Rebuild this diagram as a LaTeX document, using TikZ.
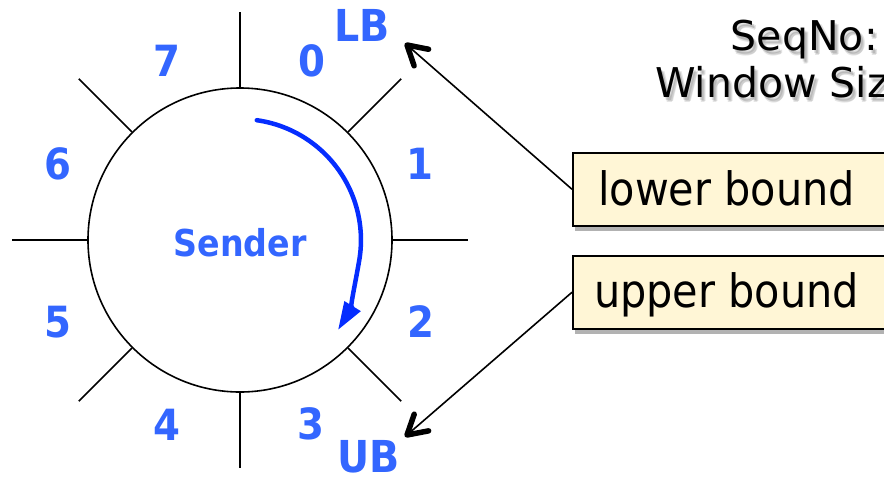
\documentclass[tikz,border=0pt]{standalone}
\usepackage{fontspec}
\setmainfont{DejaVu Sans}
\newfontfamily\condfont{DejaVu Sans Condensed}
\usetikzlibrary{arrows.meta,shadows,calc}
\definecolor{lblblue}{RGB}{51,102,255}
\definecolor{arcblue}{RGB}{5,45,255}
\definecolor{boxfill}{RGB}{255,246,214}
\begin{document}
\begin{tikzpicture}[x=1pt,y=-1pt,
  tick/.style={line width=1.6pt},
  numlbl/.style={text=lblblue, inner sep=0pt, font=\condfont\bfseries\fontsize{43}{50}\selectfont},
  bndlbl/.style={text=lblblue, inner sep=0pt, font=\condfont\bfseries\fontsize{44}{50}\selectfont},
  sndlbl/.style={text=lblblue, inner sep=0pt, font=\condfont\bfseries\fontsize{37}{44}\selectfont},
  hdr/.style={inner sep=0pt, font=\fontsize{41}{48}\selectfont},
  hdrshadow/.style={hdr, text=black, opacity=0.1},
  boundbox/.style={draw=black, line width=1.5pt, fill=boxfill, minimum width=330pt, minimum height=73pt,
     drop shadow={shadow xshift=2pt, shadow yshift=-5pt, opacity=0.3, fill=black}},
  boxtext/.style={inner sep=0pt, font=\condfont\fontsize{46}{54}\selectfont},
  ptr/.style={line width=1.6pt},
  barb/.style={line width=5.5pt, line cap=round, line join=round},
  sweep/.style={draw=arcblue, line width=4.5pt, line cap=round, -{Triangle[length=28pt,width=18pt]}}
]
\useasboundingbox (0,0) rectangle (884,480);
\clip (0,0) rectangle (884,480);

% header texts (partly cut off), with a soft shadow
\foreach \dx/\dy [count=\i] in {2/3,3/5,4/4} {
  \node[hdrshadow, anchor=base east] (seqshadow\i) at (878+\dx,50+\dy) {SeqNo:};
  \node[hdrshadow, anchor=base west] (winshadow\i) at (655+\dx,97+\dy) {Window Size};
}
\node[hdr, anchor=base east] (seq) at (878,50) {SeqNo:};
\node[hdr, anchor=base west] (win) at (655,97) {Window Size};

% wheel
\node[circle, draw, line width=1.6pt, minimum size=304pt, inner sep=0pt] (wheel) at (240,240) {};
\foreach \a in {0,45,...,315}
  \draw[tick] (wheel.\a) -- ($(wheel.center)+(\a:228pt)$);

\node[sndlbl] (sender) at (240,243) {Sender};

% sequence numbers
\node[numlbl] (n0) at (312,61) {0};
\node[numlbl] (n1) at (420,164) {1};
\node[numlbl] (n2) at (421,322) {2};
\node[numlbl] (n3) at (311,424) {3};
\node[numlbl] (n4) at (167,425) {4};
\node[numlbl] (n5) at (58,322) {5};
\node[numlbl] (n6) at (58,164) {6};
\node[numlbl] (n7) at (167,61) {7};
\node[bndlbl] (lb) at (362,25) {LB};
\node[bndlbl] (ub) at (369,457) {UB};

% sweep arrow
\coordinate (swstart) at (256.8,120.2);
\coordinate (swend) at (338,330);
\draw[sweep] (swstart) arc[start angle=82, end angle=-10, radius=121pt]
  .. controls (355,285) and (349,312) .. (swend);

% bound boxes
\node[boundbox, anchor=north west] (lbbox) at (572,152) {};
\node[boxtext, anchor=base west] (lbtext) at (598,205) {lower bound};
\node[boundbox, anchor=north west] (ubbox) at (572,255) {};
\node[boxtext, anchor=base west] (ubtext) at (594,307) {upper bound};

\coordinate (lbtip) at (407,45);
\coordinate (ubtip) at (407,435);
\draw[ptr] (lbbox.west) -- (lbtip);
\draw[ptr] (ubbox.west) -- (ubtip);
\draw[barb] ($(lbtip)!22pt!30:(lbbox.west)$) -- (lbtip) -- ($(lbtip)!22pt!-30:(lbbox.west)$);
\draw[barb] ($(ubtip)!22pt!30:(ubbox.west)$) -- (ubtip) -- ($(ubtip)!22pt!-30:(ubbox.west)$);
\end{tikzpicture}
\end{document}
